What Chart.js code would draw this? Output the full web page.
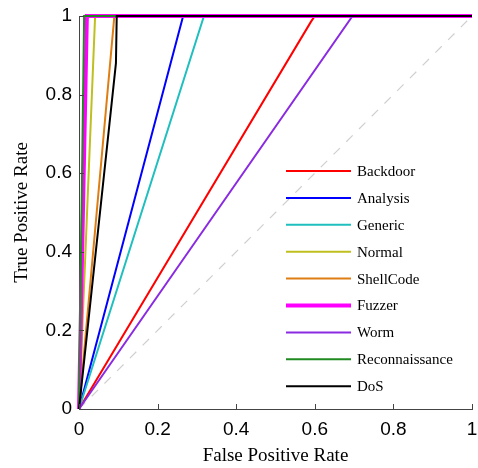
<!DOCTYPE html>
<html>
<head>
<meta charset="utf-8">
<script src="https://cdn.jsdelivr.net/npm/chart.js@4.4.0/dist/chart.umd.min.js"></script>
<style>
  body { margin: 0; background: #fff; }
</style>
</head>
<body>
<canvas id="roc_chart" width="478" height="468"></canvas>
<script>
// ROC curve per attack class (FPR on x, TPR on y)
var classNames = ["Backdoor", "Analysis", "Generic", "Normal", "ShellCode",
                  "Fuzzer", "Worm", "Reconnaissance", "DoS"];
var classColors = ["#ff0000", "#0000ff", "#1fbfbf", "#bfbf1f", "#de7d12",
                   "#ff00ff", "#8a2be2", "#1f8a1f", "#000000"];

var backdoorFpr = [0, 0.59, 0.6, 1];
var backdoorTpr = [0, 0.985, 1, 1];
var analysisFpr = [0, 0.265, 1];
var analysisTpr = [0, 1, 1];
var genericFpr = [0, 0.318, 1];
var genericTpr = [0, 1, 1];
var normalFpr = [0, 0.041, 1];
var normalTpr = [0, 1, 1];
var shellcodeFpr = [0, 0.09, 1];
var shellcodeTpr = [0, 1, 1];
var fuzzerFpr = [0, 0.02, 1];
var fuzzerTpr = [0, 1, 1];
var wormFpr = [0, 0.696, 1];
var wormTpr = [0, 1, 1];
var reconFpr = [0, 0.013, 1];
var reconTpr = [0, 1, 1];
var dosFpr = [0, 0.094, 0.096, 1];
var dosTpr = [0, 0.88, 1, 1];

var chanceFpr = [0, 1];
var chanceTpr = [0, 1];

var xTicks = [0, 0.2, 0.4, 0.6, 0.8, 1];
var yTicks = [0, 0.2, 0.4, 0.6, 0.8, 1];

var allFpr = [backdoorFpr, analysisFpr, genericFpr, normalFpr, shellcodeFpr,
              fuzzerFpr, wormFpr, reconFpr, dosFpr];
var allTpr = [backdoorTpr, analysisTpr, genericTpr, normalTpr, shellcodeTpr,
              fuzzerTpr, wormTpr, reconTpr, dosTpr];

function toPoints(xs, ys) {
  return xs.map(function (x, i) { return { x: x, y: ys[i] }; });
}

var datasets = classNames.map(function (name, i) {
  return {
    label: name,
    data: toPoints(allFpr[i], allTpr[i]),
    borderColor: classColors[i],
    backgroundColor: classColors[i],
    borderWidth: name === "Fuzzer" ? 4 : 2,
    showLine: true,
    pointRadius: 0,
    fill: false,
    clip: 6,
    order: -i, // later classes drawn on top
  };
});
datasets.push({
  label: "chance",
  data: toPoints(chanceFpr, chanceTpr),
  borderColor: "#cfcfcf",
  borderWidth: 1.2,
  borderDash: [9, 9],
  showLine: true,
  pointRadius: 0,
  order: 10,
  noLegend: true,
});

// small ticks pointing into the plot + the legend box inside
var matlabLook = {
  id: "matlabLook",
  afterDraw: function (chart) {
    var c = chart.ctx, xs = chart.scales.x, ys = chart.scales.y;
    var area = chart.chartArea;
    c.save();
    c.strokeStyle = "#444";
    c.lineWidth = 1;
    c.beginPath();
    xTicks.forEach(function (v) {
      var px = Math.round(xs.getPixelForValue(v)) + 0.5;
      c.moveTo(px, area.bottom);
      c.lineTo(px, area.bottom - 5);
    });
    yTicks.forEach(function (v) {
      var py = Math.round(ys.getPixelForValue(v)) + 0.5;
      c.moveTo(area.left, py);
      c.lineTo(area.left + 5, py);
    });
    c.stroke();

    var x0 = 286, x1 = 351, y0 = 171, step = 26.9;
    c.font = "15px 'Liberation Serif', 'Times New Roman', serif";
    c.textBaseline = "middle";
    c.fillStyle = "#000";
    var row = 0;
    chart.data.datasets.forEach(function (ds) {
      if (ds.noLegend) return;
      var y = y0 + row * step;
      c.strokeStyle = ds.borderColor;
      c.lineWidth = ds.borderWidth;
      c.beginPath();
      c.moveTo(x0, y);
      c.lineTo(x1, y);
      c.stroke();
      c.fillText(ds.label, 357, y + 1);
      row++;
    });
    c.restore();
  },
};

function plainLabel(v) { return String(v); }

var ctx = document.getElementById("roc_chart").getContext("2d");
var roc_chart = new Chart(ctx, {
  type: "scatter",
  data: { datasets: datasets },
  plugins: [matlabLook],
  options: {
    responsive: false,
    animation: false,
    devicePixelRatio: 1,
    layout: { padding: { top: 16, right: 6, left: 0, bottom: 0 } },
    scales: {
      x: {
        type: "linear",
        min: 0,
        max: 1,
        afterFit: function (s) {
          s.height = 59;
          s.paddingLeft = 0;
          s.paddingRight = 0;
        },
        afterBuildTicks: function (s) {
          s.ticks = xTicks.map(function (v) { return { value: v }; });
        },
        ticks: {
          color: "#000",
          padding: 9,
          callback: plainLabel,
          font: { family: "'Liberation Sans', Arial, sans-serif", size: 19 },
        },
        grid: { display: false, drawTicks: false },
        border: { display: true, color: "#444", width: 1 },
        title: {
          display: true,
          text: "False Positive Rate",
          color: "#000",
          padding: { top: 0, bottom: 1 },
          font: { family: "'Liberation Serif', 'Times New Roman', serif", size: 19 },
        },
      },
      y: {
        type: "linear",
        min: 0,
        max: 1,
        afterFit: function (s) {
          s.width = 79;
          s.paddingTop = 0;
          s.paddingBottom = 0;
        },
        afterBuildTicks: function (s) {
          s.ticks = yTicks.map(function (v) { return { value: v }; });
        },
        ticks: {
          color: "#000",
          padding: 7,
          callback: plainLabel,
          font: { family: "'Liberation Sans', Arial, sans-serif", size: 19 },
        },
        grid: { display: false, drawTicks: false },
        border: { display: true, color: "#444", width: 1 },
        title: {
          display: true,
          text: "True Positive Rate",
          color: "#000",
          padding: { top: 11, bottom: 0 },
          font: { family: "'Liberation Serif', 'Times New Roman', serif", size: 19 },
        },
      },
    },
    plugins: {
      legend: { display: false },
      tooltip: { enabled: false },
    },
  },
});
</script>
</body>
</html>
